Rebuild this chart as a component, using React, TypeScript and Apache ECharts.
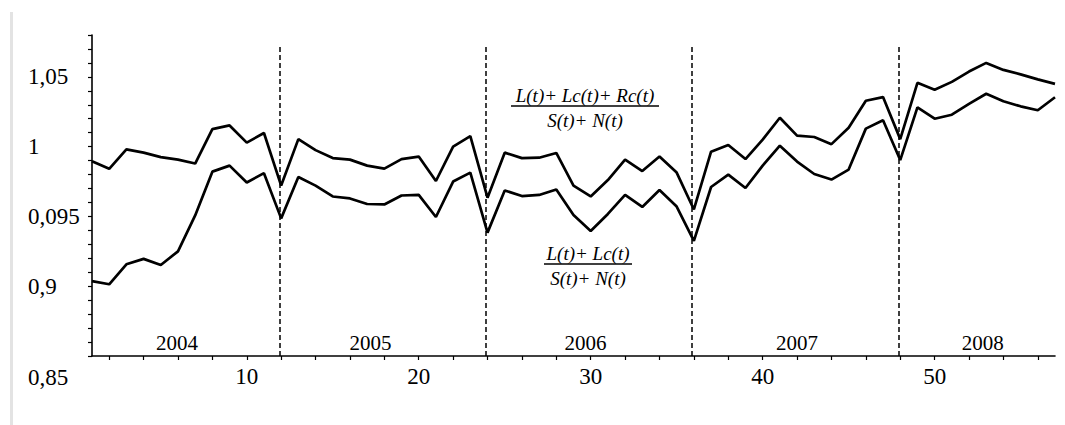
import React, { useEffect, useRef } from "react";
import * as echarts from "echarts";

// Monthly observations, t = 1 … 57 (January 2004 – September 2008)
const upperRatio = [
  0.9895, 0.9841, 0.998, 0.9957, 0.9925, 0.9907, 0.9879, 1.0126, 1.0152, 1.0029, 1.0098, 0.9721,
  1.0054, 0.9975, 0.9918, 0.9907, 0.9864, 0.9843, 0.9911, 0.9929, 0.9754, 1.0, 1.0075, 0.9634,
  0.9957, 0.9918, 0.9921, 0.9955, 0.9721, 0.9643, 0.9761, 0.9907, 0.9825, 0.9929, 0.9814, 0.955,
  0.9964, 1.0012, 0.9911, 1.005, 1.0207, 1.0079, 1.0069, 1.0018, 1.0136, 1.0329, 1.0355, 1.0054,
  1.0457, 1.0407, 1.0464, 1.0538, 1.06, 1.055, 1.0518, 1.0482, 1.045,
];
const lowerRatio = [
  0.9036, 0.9014, 0.9157, 0.9196, 0.9152, 0.925, 0.9507, 0.9821, 0.9864, 0.9743, 0.981, 0.9486,
  0.9782, 0.9721, 0.9643, 0.9629, 0.9589, 0.9586, 0.965, 0.9654, 0.9496, 0.975, 0.9814, 0.9384,
  0.9686, 0.9646, 0.9654, 0.9693, 0.9511, 0.9396, 0.9518, 0.9654, 0.9568, 0.9689, 0.9571, 0.9325,
  0.9711, 0.98, 0.9704, 0.9864, 1.0007, 0.9893, 0.9804, 0.9764, 0.9836, 1.0129, 1.0189, 0.9904,
  1.0282, 1.02, 1.0229, 1.0307, 1.0379, 1.0325, 1.0289, 1.0261, 1.0354,
];

// Year boundaries and year captions (x in months, y in ratio units)
const yearBreaks = [11.9, 23.9, 35.9, 47.9];
const breakTop = 1.073;
const years = ["2004", "2005", "2006", "2007", "2008"];
const yearLabelX = [5.95, 17.2, 29.7, 42.0, 52.8];
const yearLabelY = 0.8593;

// Axis ticks and labels
const xTicks = [2, 4, 6, 8, 10, 12, 14, 16, 18, 20, 22, 24, 26, 28, 30, 32, 34, 36, 38, 40, 42, 44, 46, 48, 50, 52, 54, 56];
const xLabels = [10, 20, 30, 40, 50];
const yTicks = [0.85, 0.86, 0.87, 0.88, 0.89, 0.9, 0.91, 0.92, 0.93, 0.94, 0.95, 0.96, 0.97, 0.98, 0.99, 1.0, 1.01, 1.02, 1.03, 1.04, 1.05, 1.06, 1.07, 1.08];
const yLabelValues = [0.9, 0.95, 1.0, 1.05];
const yLabelTexts = ["0,9", "0,095", "1", "1,05"];
const yBottomLabel = "0,85";

const SERIF = "Liberation Serif";

export default function App() {
  const ref = useRef<HTMLDivElement>(null);

  useEffect(() => {
    if (!ref.current) return;
    const chart = echarts.init(ref.current, null, { renderer: "svg" });

    const toPairs = (vals: number[]) => vals.map((v, i) => [i + 1, v]);

    const fraction = (cx: number, lineY: number, halfWidth: number, num: string, den: string) => ({
      type: "group",
      children: [
        {
          type: "text",
          x: cx,
          y: lineY - 11,
          style: {
            text: num,
            font: `italic 19px "${SERIF}"`,
            fill: "#000",
            align: "center",
            verticalAlign: "middle",
          },
        },
        {
          type: "line",
          shape: { x1: cx - halfWidth, y1: lineY, x2: cx + halfWidth, y2: lineY },
          style: { stroke: "#000", lineWidth: 1.3 },
        },
        {
          type: "text",
          x: cx,
          y: lineY + 14,
          style: {
            text: den,
            font: `italic 19px "${SERIF}"`,
            fill: "#000",
            align: "center",
            verticalAlign: "middle",
          },
        },
      ],
    });

    chart.setOption({
      animation: false,
      backgroundColor: "#fff",
      grid: { left: 92, right: 10, top: 35, bottom: 69, containLabel: false, outerBoundsMode: "none" },
      xAxis: {
        type: "value",
        min: 1,
        max: 57,
        axisLine: { show: true, onZero: false, lineStyle: { color: "#000", width: 1.6 } },
        axisTick: { show: true, inside: false, length: 4, customValues: xTicks, lineStyle: { color: "#000", width: 1.2 } },
        axisLabel: {
          customValues: xLabels,
          margin: 9,
          color: "#000",
          fontFamily: SERIF,
          fontSize: 23,
        },
        splitLine: { show: false },
      },
      yAxis: {
        type: "value",
        min: 0.85,
        max: 1.08,
        axisLine: { show: true, onZero: false, lineStyle: { color: "#000", width: 1.6 } },
        axisTick: { show: true, inside: false, length: 4, customValues: yTicks, lineStyle: { color: "#000", width: 1.2 } },
        axisLabel: {
          customValues: yLabelValues,
          align: "left",
          margin: 64,
          color: "#000",
          fontFamily: SERIF,
          fontSize: 23,
          formatter: (v: number) => {
            const idx = yLabelValues.findIndex((x) => Math.abs(x - v) < 1e-6);
            return idx >= 0 ? yLabelTexts[idx] : "";
          },
        },
        splitLine: { show: false },
      },
      series: [
        {
          type: "line",
          data: toPairs(upperRatio),
          showSymbol: false,
          lineStyle: { color: "#000", width: 2.7 },
          markLine: {
            silent: true,
            symbol: "none",
            label: { show: false },
            lineStyle: { color: "#000", type: [5, 3], width: 1.5 },
            data: yearBreaks.map((x) => [{ coord: [x, 0.85] }, { coord: [x, breakTop] }]),
          },
        },
        {
          type: "line",
          data: toPairs(lowerRatio),
          showSymbol: false,
          lineStyle: { color: "#000", width: 2.7 },
        },
        {
          type: "scatter",
          symbolSize: 0,
          silent: true,
          itemStyle: { opacity: 1, color: "#000" },
          data: years.map((name, i) => ({ name, value: [yearLabelX[i], yearLabelY] })),
          label: {
            show: true,
            position: "inside",
            formatter: (p: any) => p.name,
            color: "#000",
            opacity: 1,
            textBorderWidth: 0,
            fontFamily: SERIF,
            fontSize: 21,
          },
        },
      ],
      graphic: [
        {
          type: "rect",
          shape: { x: 10, y: 12, width: 3, height: 413 },
          style: { fill: "#e3e3e3" },
        },
        {
          type: "text",
          x: 28,
          y: 377,
          style: {
            text: yBottomLabel,
            font: `23px "${SERIF}"`,
            fill: "#000",
            align: "left",
            verticalAlign: "middle",
          },
        },
        fraction(585, 106, 74, "L(t)+ Lc(t)+ Rc(t)", "S(t)+ N(t)"),
        fraction(588, 264, 44, "L(t)+ Lc(t)", "S(t)+ N(t)"),
      ],
    });

    return () => chart.dispose();
  }, []);

  return (
    <div
      ref={ref}
      style={{ position: "absolute", left: 0, top: 0, width: 1065, height: 425, background: "#fff" }}
    />
  );
}
